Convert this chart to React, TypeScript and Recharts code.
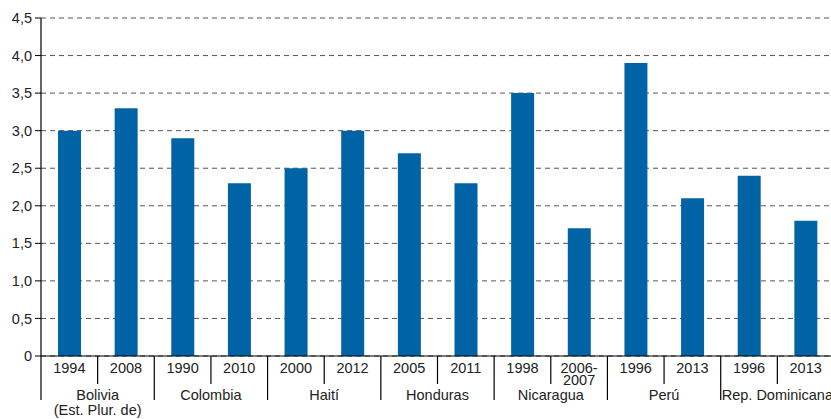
import React from "react";
import { BarChart, Bar, XAxis, YAxis, CartesianGrid } from "recharts";

const countries = ["Bolivia|(Est. Plur. de)", "Colombia", "Haití", "Honduras", "Nicaragua", "Perú", "Rep. Dominicana"];
const years = ["1994", "2008", "1990", "2010", "2000", "2012", "2005", "2011", "1998", "2006-|2007", "1996", "2013", "1996", "2013"];
const values = [3.0, 3.3, 2.9, 2.3, 2.5, 3.0, 2.7, 2.3, 3.5, 1.7, 3.9, 2.1, 2.4, 1.8];
const yTicks = [0, 0.5, 1, 1.5, 2, 2.5, 3, 3.5, 4, 4.5];

const data = values.map((v, i) => ({ id: String(i), year: years[i], country: countries[Math.floor(i / 2)], value: v }));

const CHART_W = 834;
const CHART_H = 419;
const Y_W = 41;
const BAND = (CHART_W - Y_W) / data.length;
const FONT = "'Liberation Sans', Arial, sans-serif";
const TXT = "#222";

function YearTick(props: any) {
  const { x, y, index } = props;
  const d = data[index];
  const yearLines = d.year.split("|");
  const right = x + BAND / 2;
  const left = x - BAND / 2;
  const isCountryEnd = index % 2 === 1;
  const countryLines = d.country.split("|");
  return (
    <g fontFamily={FONT} fontSize={14.5} fill={TXT}>
      {yearLines.map((t: string, k: number) => (
        <text key={k} x={x} y={y + 16.5 + k * 12.5} textAnchor="middle" fill={TXT}>
          {t}
        </text>
      ))}
      {index === 0 && <line x1={left} x2={left} y1={y} y2={y + 44} stroke="#000" strokeWidth={1.2} />}
      <line x1={right} x2={right} y1={y} y2={y + (isCountryEnd ? 44 : 28)} stroke="#000" strokeWidth={1.2} />
      {!isCountryEnd &&
        countryLines.map((t: string, k: number) => (
          <text key={"c" + k} x={right} y={y + 44 + k * 15} textAnchor="middle" fill={TXT}>
            {t}
          </text>
        ))}
    </g>
  );
}

const fmt = (v: number) => (v === 0 ? "0" : v.toFixed(1).replace(".", ","));

export default function App() {
  return (
    <div style={{ position: "fixed", left: 0, top: 0, width: 831, height: 419, overflow: "hidden", background: "#fff" }}>
      <BarChart width={CHART_W} height={CHART_H} data={data} margin={{ top: 18, right: 0, left: 0, bottom: 0 }}>
        <CartesianGrid vertical={false} stroke="#555" strokeDasharray="5 4" />
        <XAxis
          dataKey="id"
          height={63}
          interval={0}
          tickSize={0}
          tickMargin={0}
          tickLine={false}
          axisLine={{ stroke: "#000", strokeWidth: 1.2 }}
          tick={<YearTick />}
        />
        <YAxis
          width={Y_W}
          domain={[0, 4.5]}
          ticks={yTicks}
          tickFormatter={fmt}
          tickSize={6}
          tickMargin={3}
          axisLine={{ stroke: "#000", strokeWidth: 1.2 }}
          tickLine={{ stroke: "#000" }}
          tick={{ fill: TXT, fontSize: 14.5, fontFamily: FONT }}
        />
        <Bar dataKey="value" fill="#0063a6" barSize={23} isAnimationActive={false} />
      </BarChart>
    </div>
  );
}
